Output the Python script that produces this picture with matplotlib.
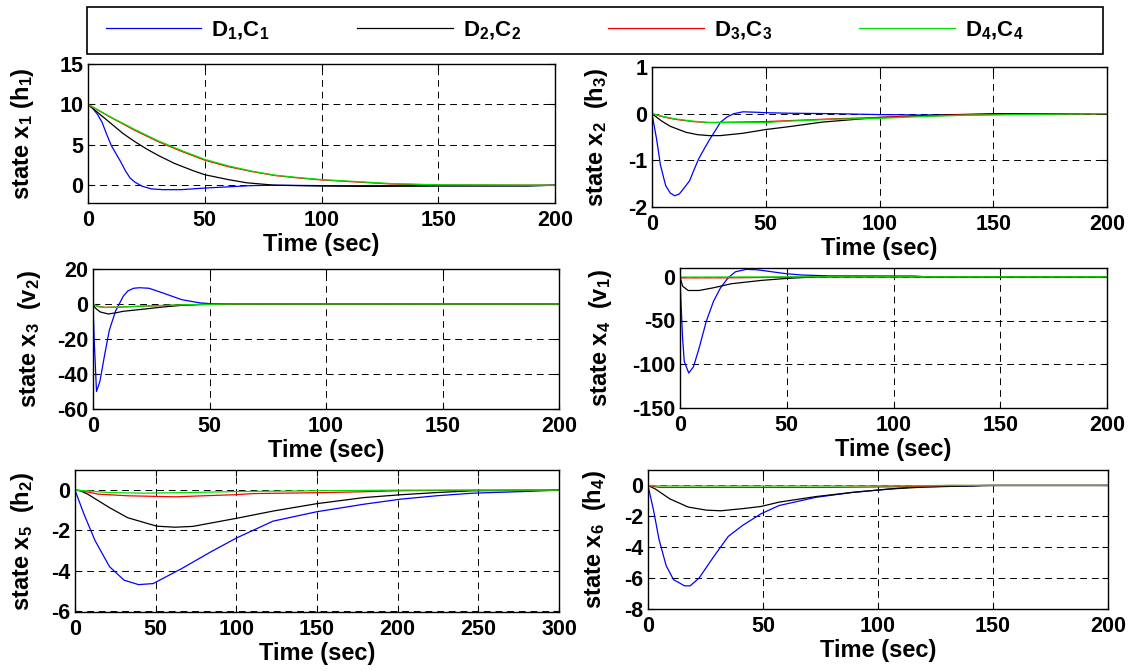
import matplotlib
matplotlib.use("Agg")
import matplotlib.pyplot as plt
from matplotlib.patches import Rectangle

# ---------------- data ----------------
series_labels = ["D$_1$,C$_1$", "D$_2$,C$_2$", "D$_3$,C$_3$", "D$_4$,C$_4$"]
series_colors = ["#0000ff", "#000000", "#ff0000", "#00e000"]

# state x1 (h1)
x1_t_blue = [0, 2, 4, 6, 8, 10, 12, 14, 16, 18, 20, 23, 27, 32, 40, 50, 60, 70, 80, 100, 150, 188, 200]
x1_blue = [10, 9.5, 8.8, 7.8, 6.3, 4.9, 3.9, 2.9, 1.8, 0.9, 0.4, -0.1, -0.45, -0.55, -0.55, -0.35, -0.2, -0.05, 0, -0.05, -0.05, -0.05, 0]
x1_t_black = [0, 5, 10, 15, 20, 25, 30, 37, 45, 50, 60, 68, 80, 100, 120, 150, 188, 200]
x1_black = [10, 8.8, 7.6, 6.4, 5.4, 4.5, 3.7, 2.7, 1.8, 1.3, 0.7, 0.3, 0, -0.1, -0.15, -0.1, -0.1, 0]
x1_t_rg = [0, 10, 20, 30, 35, 40, 50, 60, 70, 80, 90, 100, 115, 130, 150, 200]
x1_red = [10, 8.35, 6.8, 5.4, 4.8, 4.2, 3.1, 2.3, 1.7, 1.2, 0.9, 0.65, 0.4, 0.15, 0.03, 0]
x1_green = [10, 8.4, 6.9, 5.5, 4.9, 4.3, 3.2, 2.4, 1.75, 1.25, 0.95, 0.7, 0.45, 0.2, 0.05, 0]

# state x2 (h3)
x2_t_blue = [0, 2, 3.7, 6, 8, 10, 12, 14, 16.5, 18.5, 20.5, 23, 25.5, 28, 30, 33, 36, 40, 46, 50, 60, 80, 100, 120, 150, 180, 200]
x2_blue = [0, -0.54, -1.1, -1.54, -1.7, -1.76, -1.72, -1.6, -1.44, -1.2, -0.97, -0.75, -0.54, -0.35, -0.19, -0.07, 0, 0.04, 0.03, 0.02, 0.01, 0, -0.02, -0.03, -0.02, 0, 0]
x2_t_black = [0, 4, 8, 15, 20, 25, 30, 40, 50, 60, 75, 90, 100, 125, 150, 200]
x2_black = [0, -0.15, -0.27, -0.4, -0.45, -0.47, -0.47, -0.42, -0.34, -0.28, -0.18, -0.12, -0.08, -0.03, 0, 0]
x2_t_rg = [0, 5, 10, 18, 25, 50, 60, 80, 100, 120, 140, 180, 200]
x2_red = [0, -0.07, -0.12, -0.17, -0.19, -0.17, -0.15, -0.11, -0.08, -0.05, -0.02, -0.01, 0]
x2_green = [0, -0.06, -0.11, -0.16, -0.19, -0.19, -0.16, -0.12, -0.1, -0.06, -0.03, -0.01, 0]

# state x3 (v2)
x3_t_blue = [0, 0.5, 1.5, 3, 5, 7, 9.7, 13, 15, 17.5, 20, 24, 30, 38, 46, 52, 60, 200]
x3_blue = [0, -20, -50, -44, -29, -15, -4, 4.5, 7.5, 9, 9.3, 9, 6.3, 2.5, 0.6, 0.1, 0, 0]
x3_t_black = [0, 1, 3, 6.6, 10, 12.8, 22, 30, 38, 47, 60, 200]
x3_black = [0, -2.3, -4.5, -5.7, -5, -4.2, -2.9, -1.7, -0.8, -0.2, 0, 0]
x3_t_rg = [0, 2, 5, 10, 20, 30, 40, 50, 60, 200]
x3_red = [0, -1.3, -1.9, -1.8, -1.3, -0.9, -0.5, -0.2, 0, 0]
x3_green = [0, -1.5, -2, -1.8, -1.3, -0.8, -0.4, -0.2, 0, 0]

# state x4 (v1)
x4_t_blue = [0, 0.3, 1.2, 2, 4.1, 6.3, 8.9, 12.3, 15.7, 19, 22.6, 26, 31, 36, 43, 50, 57, 70, 110, 115, 200]
x4_blue = [0, -20, -70, -97, -110, -103, -82, -51, -28, -12.6, -1, 5.7, 8.4, 8, 5.7, 3.4, 2, 1, 0.8, 0, 0]
x4_t_black = [0, 1.2, 3.8, 8.9, 15.7, 24, 38, 50, 62, 70, 200]
x4_black = [0, -10.7, -15.7, -15.7, -12.6, -8, -4.2, -1.9, -0.4, 0, 0]
x4_t_rg = [0, 0.5, 25, 60, 200]
x4_red = [0, -1.3, -1.2, -0.3, -0.3]
x4_green = [0, -0.4, -0.3, 0, 0]

# state x5 (h2)
x5_t_blue = [0, 5.6, 12.4, 21.4, 30.4, 39.4, 48.4, 66, 84.5, 100, 122.7, 150, 179, 201.6, 224, 246.6, 278, 300]
x5_blue = [0, -1.2, -2.5, -3.8, -4.47, -4.69, -4.64, -3.9, -3.05, -2.38, -1.54, -1.07, -0.7, -0.45, -0.28, -0.15, -0.07, 0]
x5_t_black = [0, 3, 7.9, 21.4, 32.7, 50.7, 62, 73, 100, 122.7, 150, 179, 201.6, 224, 246.6, 300]
x5_black = [0, -0.02, -0.2, -0.87, -1.37, -1.79, -1.84, -1.8, -1.4, -1.04, -0.67, -0.37, -0.23, -0.12, -0.03, 0]
x5_t_red = [0, 5, 14.6, 32.7, 62, 98, 111, 156, 183.6, 201.6, 250, 300]
x5_red = [0, -0.05, -0.2, -0.28, -0.33, -0.23, -0.17, -0.12, -0.07, -0.03, 0, 0]
x5_t_green = [0, 10, 21, 43, 70, 100, 150, 200, 300]
x5_green = [0, -0.05, -0.12, -0.15, -0.12, -0.07, -0.03, 0, 0]

# state x6 (h4)
x6_t_blue = [0, 2.4, 4.8, 7.9, 11.1, 15.9, 18.3, 22.2, 28.6, 34.9, 41.3, 49.2, 57, 73, 88.9, 100, 112.7, 128.6, 141, 145, 200]
x6_blue = [0, -1.6, -3.5, -5.2, -6.1, -6.5, -6.5, -6, -4.6, -3.3, -2.57, -1.83, -1.3, -0.77, -0.45, -0.3, -0.13, -0.06, -0.04, 0, 0]
x6_t_black = [0, 3.2, 9.5, 17.5, 25.4, 31.7, 41.3, 49.2, 57, 73, 88.9, 105, 120.6, 150, 200]
x6_black = [0, -0.23, -0.87, -1.4, -1.6, -1.64, -1.5, -1.36, -1.08, -0.72, -0.45, -0.23, -0.1, 0, 0]
x6_t_rg = [0, 5, 76, 114, 130, 200]
x6_red = [0, -0.13, -0.13, -0.08, 0, 0]
x6_green = [0, -0.03, -0.03, -0.02, 0, 0]

panels = [
    dict(ylabel="state x$_1$ (h$_1$)", ylim=(-2.2, 15), yticks=[0, 5, 10, 15], xmax=200,
         curves=[(x1_t_blue, x1_blue), (x1_t_black, x1_black), (x1_t_rg, x1_red), (x1_t_rg, x1_green)]),
    dict(ylabel="state x$_2$  (h$_3$)", ylim=(-2, 1), yticks=[-2, -1, 0, 1], xmax=200,
         curves=[(x2_t_blue, x2_blue), (x2_t_black, x2_black), (x2_t_rg, x2_red), (x2_t_rg, x2_green)]),
    dict(ylabel="state x$_3$  (v$_2$)", ylim=(-60, 20), yticks=[-60, -40, -20, 0, 20], xmax=200,
         curves=[(x3_t_blue, x3_blue), (x3_t_black, x3_black), (x3_t_rg, x3_red), (x3_t_rg, x3_green)]),
    dict(ylabel="state x$_4$  (v$_1$)", ylim=(-150, 10), yticks=[-150, -100, -50, 0], xmax=200,
         curves=[(x4_t_blue, x4_blue), (x4_t_black, x4_black), (x4_t_rg, x4_red), (x4_t_rg, x4_green)]),
    dict(ylabel="state x$_5$  (h$_2$)", ylim=(-6.05, 1), yticks=[-6, -4, -2, 0], xmax=300,
         curves=[(x5_t_blue, x5_blue), (x5_t_black, x5_black), (x5_t_red, x5_red), (x5_t_green, x5_green)]),
    dict(ylabel="state x$_6$  (h$_4$)", ylim=(-8, 1), yticks=[-8, -6, -4, -2, 0], xmax=200,
         curves=[(x6_t_blue, x6_blue), (x6_t_black, x6_black), (x6_t_rg, x6_red), (x6_t_rg, x6_green)]),
]

# ---------------- layout / style ----------------
plt.rcParams["font.family"] = ["Liberation Sans", "DejaVu Sans"]
plt.rcParams["font.weight"] = "bold"
plt.rcParams["axes.labelweight"] = "bold"
plt.rcParams["axes.unicode_minus"] = False
plt.rcParams["font.size"] = 15.5
plt.rcParams["mathtext.fontset"] = "custom"
plt.rcParams["mathtext.rm"] = "Liberation Sans:bold"
plt.rcParams["mathtext.it"] = "Liberation Sans:bold"
plt.rcParams["mathtext.bf"] = "Liberation Sans:bold"

W, H = 1133, 671
fig = plt.figure(figsize=(W / 100, H / 100), dpi=100)

# axes boxes in pixels: left, top, right, bottom
boxes = [(88, 64, 555, 203), (652, 67, 1107, 207),
         (93, 269, 559, 409), (680, 268, 1107, 408),
         (75, 470, 559, 612), (648, 470, 1108, 609)]
label_right_px = [36, 610, 43, 614, 36, 608]

handles = None
for i, (p, b) in enumerate(zip(panels, boxes)):
    l, t, r, bt = b
    ax = fig.add_axes([l / W, 1 - bt / H, (r - l) / W, (bt - t) / H])
    lines = []
    for (tt, yy), c in zip(p["curves"], series_colors):
        ln, = ax.plot(tt, yy, color=c, lw=0.9)
        lines.append(ln)
    if handles is None:
        handles = lines
    ax.set_xlim(0, p["xmax"])
    ax.set_xticks(list(range(0, p["xmax"] + 1, 50)))
    ax.set_ylim(*p["ylim"])
    ax.set_yticks(p["yticks"])
    ax.grid(True, color="black", lw=0.7, linestyle=(0, (7, 5)))
    ax.tick_params(direction="in", top=True, right=True, length=4, width=0.8)
    ax.tick_params(axis="x", pad=5)
    ax.tick_params(axis="y", pad=3.5)
    for s in ax.spines.values():
        s.set_linewidth(1.0)
    ax.set_xlabel("Time (sec)", labelpad=1.5, fontsize=17)
    ax.set_ylabel(p["ylabel"], fontsize=17)
    ax.yaxis.set_label_coords((label_right_px[i] - l) / (r - l), 0.5)

# legend
lx0, ly0, lx1, ly1 = 97, 7, 1032, 54
fig.legend(handles, series_labels, loc="center", ncol=4, mode="expand",
           bbox_to_anchor=(lx0 / W, 1 - ly1 / H, (lx1 - lx0) / W, (ly1 - ly0) / H),
           frameon=False, fontsize=16, handlelength=4.3, handletextpad=0.45,
           borderaxespad=0)
fig.add_artist(Rectangle((87 / W, 1 - 54 / H), 1016 / W, 47 / H, transform=fig.transFigure,
                         fill=False, edgecolor="black", lw=1.2))

fig.savefig("out.png", dpi=100)
